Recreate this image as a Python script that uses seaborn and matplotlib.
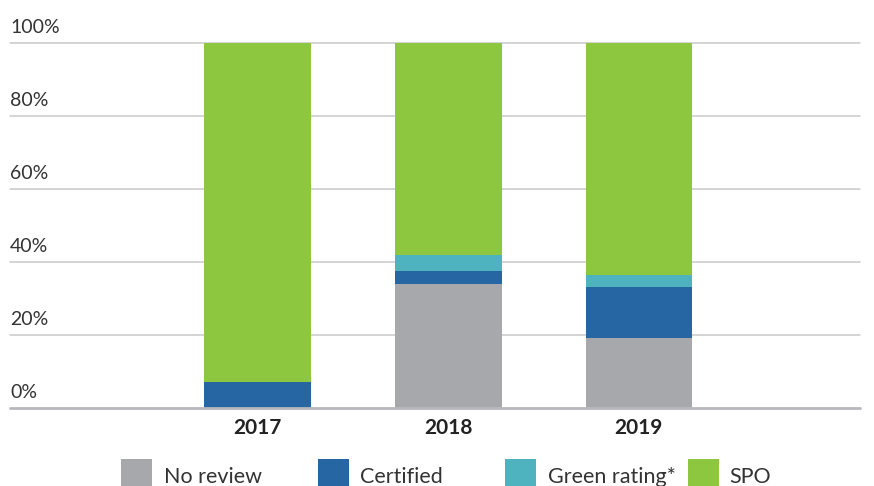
import matplotlib
matplotlib.use("Agg")
import matplotlib.pyplot as plt
import seaborn as sns
import numpy as np
from matplotlib.patches import Rectangle

years = ["2017", "2018", "2019"]
no_review = [0.0, 34.0, 19.2]
certified = [7.1, 3.5, 14.0]
green_rating = [0.0, 4.3, 3.2]
spo = [92.9, 58.2, 63.6]
series_names = ["No review", "Certified", "Green rating*", "SPO"]
series_colors = ["#A7A8AB", "#2566A3", "#4FB3BF", "#8DC63F"]
y_ticks = [0, 20, 40, 60, 80, 100]
y_tick_labels = ["0%", "20%", "40%", "60%", "80%", "100%"]

sns.set_theme(style="white")
plt.rcParams['font.family'] = ['Lato', 'DejaVu Sans']

W, H = 874, 486
fig = plt.figure(figsize=(W / 100, H / 100), dpi=100)
ax_left, ax_right = 10, 860
ax_top, ax_bot = 43, 408
ax = fig.add_axes([ax_left / W, 1 - ax_bot / H, (ax_right - ax_left) / W, (ax_bot - ax_top) / H])

bottom = np.zeros(len(years))
for vals, col in zip([no_review, certified, green_rating, spo], series_colors):
    sns.barplot(x=years, y=vals, bottom=bottom, color=col, width=0.56,
                saturation=1, ax=ax, zorder=3, linewidth=0)
    bottom = bottom + np.array(vals)

ax.set_xlim(-1.30, 3.16)
ax.set_ylim(0, 100)
for t in y_ticks[1:]:
    ax.axhline(t, color="#C9C9CD", lw=1.1, zorder=1, clip_on=False)
ax.axhline(0, color="#B8B8BC", lw=2.0, zorder=4, clip_on=False)
for t, lab in zip(y_ticks, y_tick_labels):
    ax.text(0.0, t + 2.7, lab, transform=ax.get_yaxis_transform(), ha="left", va="baseline",
            fontsize=14, color="#333333")
for s in ax.spines.values():
    s.set_visible(False)
ax.set_yticks([])
ax.set_xticks(range(len(years)))
ax.set_xticklabels(years, fontsize=15, fontweight="bold", color="#222222")
ax.tick_params(axis="x", length=0, pad=7)
ax.set_xlabel("")
ax.set_ylabel("")

# legend
sq_x = [121, 318, 505, 688]
txt_x = [164, 360, 548, 729]
for sx, tx, name, col in zip(sq_x, txt_x, series_names, series_colors):
    fig.add_artist(Rectangle((sx / W, 1 - 492 / H), 31 / W, 33 / H, transform=fig.transFigure,
                             facecolor=col, edgecolor="none"))
    fig.text(tx / W, 1 - 483 / H, name, ha="left", va="baseline", fontsize=15.5,
             color="#333333")

fig.savefig("out.png", dpi=100)
